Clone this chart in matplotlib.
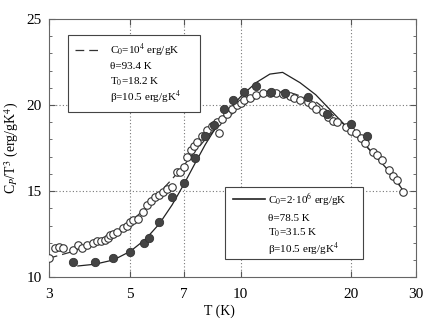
import numpy as np
import matplotlib.pyplot as plt
from matplotlib.patches import Rectangle
from matplotlib.ticker import FixedLocator, NullLocator, MultipleLocator

plt.rcParams['font.family'] = ['Liberation Serif', 'DejaVu Serif']
plt.rcParams['mathtext.fontset'] = 'stix'

# filled circles
t_filled = [3.5, 4.0, 4.5, 5.0, 5.45, 5.62, 6.0, 6.5, 7.0, 7.5, 8.0, 8.45, 9.0, 9.5,
            10.2, 11.0, 12.1, 13.2, 15.2, 17.2, 20.0, 22.1]
c_filled = [10.9, 10.9, 11.1, 11.45, 12.0, 12.25, 13.2, 14.65, 15.5, 16.9, 18.2, 18.85, 19.8, 20.3,
            20.75, 21.1, 20.75, 20.7, 20.45, 19.5, 18.9, 18.2]

# open circles
t_open = [3.0, 3.11, 3.2, 3.27, 3.49, 3.6, 3.7, 3.8, 3.95, 4.05, 4.15, 4.26, 4.35, 4.4, 4.5,
          4.6, 4.77, 4.9, 5.0, 5.1, 5.25, 5.4, 5.55, 5.7, 5.83, 6.0, 6.13, 6.3, 6.5, 6.7, 6.85,
          7.0, 7.14, 7.3, 7.45, 7.6, 7.85, 8.1, 8.35, 8.6, 8.7, 8.9, 9.15, 9.45, 9.76, 10.0,
          10.2, 10.6, 11.0, 11.5, 12.0, 12.5, 13.0, 13.6, 14.0, 14.5, 15.2, 15.6, 16.0, 16.7,
          17.3, 17.8, 18.3, 19.3, 20.0, 20.6, 21.2, 21.8, 22.9, 23.5, 24.2, 25.4, 26.0, 26.6, 27.7]
c_open = [11.1, 11.7, 11.75, 11.7, 11.6, 11.85, 11.7, 11.85, 12.0, 12.1, 12.1, 12.15, 12.3, 12.45, 12.5,
          12.6, 12.85, 13.0, 13.2, 13.3, 13.4, 13.8, 14.2, 14.4, 14.65, 14.8, 14.95, 15.1, 15.25, 16.1, 16.1,
          16.4, 17.0, 17.4, 17.6, 17.85, 18.2, 18.55, 18.8, 19.0, 18.4, 19.2, 19.5, 19.8, 20.0, 20.1,
          20.3, 20.4, 20.6, 20.7, 20.7, 20.7, 20.65, 20.5, 20.4, 20.3, 20.15, 20.0, 19.8, 19.6,
          19.3, 19.1, 19.0, 18.7, 18.5, 18.4, 18.1, 17.8, 17.3, 17.1, 16.8, 16.2, 15.9, 15.65, 14.95]

# fit curves
t_dash = [3.0, 3.5, 4.0, 4.5, 5.0, 5.5, 6.0, 6.5, 7.0, 7.5, 8.0, 9.0, 10.0, 11.0, 12.0, 13.0,
          14.0, 16.0, 18.0, 20.0, 22.0, 25.0, 28.0]
c_dash = [11.1, 11.5, 12.0, 12.5, 13.2, 14.0, 14.9, 15.7, 16.5, 17.3, 18.0, 19.1, 19.9, 20.4, 20.65, 20.75,
          20.65, 20.2, 19.35, 18.5, 17.6, 16.3, 14.95]
t_solid = [3.6, 4.0, 4.5, 5.0, 5.5, 6.0, 6.5, 7.0, 7.5, 8.0, 8.5, 9.0, 10.0, 11.0, 12.0, 13.0,
           14.5, 16.0, 17.2, 19.3, 22.0, 25.0, 28.0]
c_solid = [10.65, 10.75, 11.0, 11.5, 12.2, 13.1, 14.2, 15.4, 16.6, 17.7, 18.6, 19.4, 20.5, 21.3, 21.8, 21.9,
           21.3, 20.6, 19.9, 18.8, 17.6, 16.3, 14.9]

legend1 = ['C$_0$=10$^4$ erg/gK', 'θ=93.4 K', 'T$_0$=18.2 K', 'β=10.5 erg/gK$^4$']
legend2 = ['C$_0$=2·10$^6$ erg/gK', 'θ=78.5 K', 'T$_0$=31.5 K', 'β=10.5 erg/gK$^4$']

fig = plt.figure(figsize=(4.36, 3.28), dpi=100)
ax = fig.add_axes([0.112, 0.155, 0.842, 0.787])

ax.plot(t_dash, c_dash, '--', color='#333333', lw=0.9, dashes=(7, 4), zorder=2)
ax.plot(t_solid, c_solid, '-', color='#222222', lw=0.9, zorder=2)
ax.plot(t_open, c_open, 'o', ms=5.4, mfc='white', mec='#333333', mew=0.8, zorder=3)
ax.plot(t_filled, c_filled, 'o', ms=6.0, mfc='#444444', mec='#333333', mew=0.6, zorder=4)

ax.set_xscale('log')
ax.set_xlim(3, 30)
ax.set_ylim(10, 25)
ax.xaxis.set_major_locator(FixedLocator([3, 5, 7, 10, 20, 30]))
ax.xaxis.set_minor_locator(NullLocator())
ax.set_xticklabels(['3', '5', '7', '10', '20', '30'])
ax.yaxis.set_major_locator(MultipleLocator(5))
ax.yaxis.set_minor_locator(MultipleLocator(1))
ax.tick_params(which='both', direction='in', right=True, top=True, labelsize=11, color='#555555')
ax.tick_params(which='major', length=4)
ax.tick_params(which='minor', length=2.5)
ax.tick_params(axis='x', pad=8)
ax.tick_params(axis='y', pad=5)

for x in [5, 7, 10, 20]:
    ax.axvline(x, color='#777777', ls=(0, (1, 2)), lw=0.8, zorder=1)
for y in [15, 20]:
    ax.axhline(y, color='#777777', ls=(0, (1, 2)), lw=0.8, zorder=1)

for s in ax.spines.values():
    s.set_color('#666666')
    s.set_linewidth(0.8)

ax.set_xlabel('T (K)', fontsize=10)
ax.xaxis.set_label_coords(0.466, -0.105)
ax.set_ylabel('C$_P$/T$^3$ (erg/gK$^4$)', fontsize=10, labelpad=4)


def draw_box(x0, y0, x1, y1, hx0, hx1, tx, ys, labels, style):
    ax.add_patch(Rectangle((x0, y0), x1 - x0, y1 - y0, transform=ax.transAxes,
                           facecolor='white', edgecolor='#444444', lw=0.8, zorder=6))
    if style == '--':
        ax.plot([hx0, hx1], [ys[0], ys[0]], '--', dashes=(7, 4), color='#333333', lw=0.9,
                transform=ax.transAxes, zorder=7)
    else:
        ax.plot([hx0, hx1], [ys[0], ys[0]], '-', color='#222222', lw=1.2,
                transform=ax.transAxes, zorder=7)
    for y, lab in zip(ys, labels):
        ax.text(tx, y, lab, transform=ax.transAxes, fontsize=8, va='center', ha='left', zorder=7)


draw_box(0.052, 0.64, 0.411, 0.938, 0.071, 0.139, 0.166,
         [0.88, 0.815, 0.756, 0.698], legend1, '--')
draw_box(0.48, 0.07, 0.856, 0.349, 0.501, 0.589, 0.597,
         [0.302, 0.228, 0.171, 0.109], legend2, '-')

fig.savefig('out.png', dpi=100)
